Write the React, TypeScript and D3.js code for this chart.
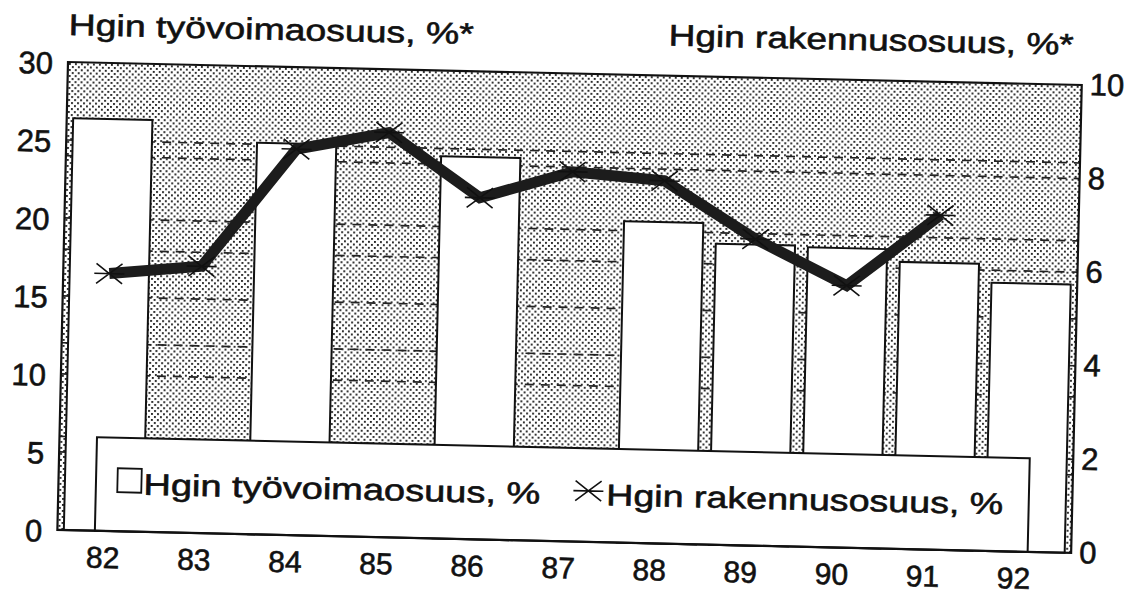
import React from "react";
import * as d3 from "d3";

// ---- data ----
const years = ["82", "83", "84", "85", "86", "87", "88", "89", "90", "91", "92"];
// Hgin työvoimaosuus, % (bars, left axis)
const workforceShare: (number | null)[] = [26.4, null, 25.1, null, 24.5, null, 20.6, 19.3, 19.2, 18.4, 17.2];
// Hgin rakennusosuus, % (line, right axis)
const constructionShare: (number | null)[] = [5.5, 5.7, 8.25, 8.65, 7.3, 7.9, 7.75, 6.55, 5.6, 7.15, null];
const leftTicks = [0, 5, 10, 15, 20, 25, 30];
const rightTicks = [0, 2, 4, 6, 8, 10];
const leftTitle = "Hgin työvoimaosuus, %*";
const rightTitle = "Hgin rakennusosuus, %*";
const legendBarLabel = "Hgin työvoimaosuus, %";
const legendLineLabel = "Hgin rakennusosuus, %";

const FONT = "'Liberation Sans', Arial, Helvetica, sans-serif";

export default function App() {
  const W = 1134;
  const H = 596;
  const x0 = 68;
  const y0 = 62;
  const pw = 1014;
  const ph = 468;
  const angle = 1.3;

  const x = d3
    .scaleBand<string>()
    .domain(years)
    .range([x0, x0 + pw])
    .paddingInner(0.14)
    .paddingOuter(0.07);
  // tick labels of the category axis sit on a slightly tighter spacing
  const xLab = d3.scalePoint<string>().domain(years).range([x0 + 46, x0 + 957]);
  const yL = d3.scaleLinear().domain([0, 30]).range([y0 + ph, y0]);
  const yR = d3.scaleLinear().domain([0, 10]).range([y0 + ph, y0]);
  const cx = (d: string) => (x(d) as number) + x.bandwidth() / 2;

  const linePts: [string, number | null][] = years.map((y, i) => [y, constructionShare[i]]);
  const lineGen = d3
    .line<[string, number | null]>()
    .defined((d) => d[1] != null)
    .x((d) => cx(d[0]))
    .y((d) => yR(d[1] as number));

  const markerPath = "M-13,-10L13,10M-13,10L13,-10M-15,0L15,0";

  // legend layout
  const legX = x0 + 37.5;
  const legY = yL(6);
  const legW = 933;
  const legH = y0 + ph - legY;
  const legBase = y0 + 431;

  const txt = { stroke: "#111", strokeWidth: 0.6 } as const;

  return (
    <svg
      width={W}
      height={H}
      viewBox={`0 0 ${W} ${H}`}
      style={{ position: "absolute", left: 0, top: 0, display: "block", background: "#fff" }}
    >
      <defs>
        <pattern id="stipple" width="6" height="6" patternUnits="userSpaceOnUse">
          <rect width="6" height="6" fill="#fff" />
          <rect x="0" y="0" width="1.9" height="1.9" fill="#222" />
          <rect x="3" y="3" width="1.9" height="1.9" fill="#222" />
        </pattern>
      </defs>
      <rect width={W} height={H} fill="#fff" />
      <g transform={`rotate(${angle}, ${x0}, ${y0})`} fontFamily={FONT} fill="#111">
        {/* plot background */}
        <rect x={x0} y={y0} width={pw} height={ph} fill="url(#stipple)" />

        {/* dashed gridlines (both axes) */}
        {leftTicks
          .filter((t) => t > 0 && t < 30)
          .map((t) => (
            <line
              key={"gl" + t}
              x1={x0}
              x2={x0 + pw}
              y1={yL(t)}
              y2={yL(t)}
              stroke="#222"
              strokeWidth={1.7}
              strokeDasharray="9,7"
            />
          ))}
        {rightTicks
          .filter((t) => t > 0 && t < 10)
          .map((t) => (
            <line
              key={"gr" + t}
              x1={x0}
              x2={x0 + pw}
              y1={yR(t)}
              y2={yR(t)}
              stroke="#222"
              strokeWidth={1.7}
              strokeDasharray="9,7"
            />
          ))}

        {/* bars */}
        {years.map((yr, i) => {
          const v = workforceShare[i];
          if (v == null) return null;
          return (
            <rect
              key={"b" + yr}
              x={x(yr)}
              y={yL(v)}
              width={x.bandwidth()}
              height={yL(0) - yL(v)}
              fill="#fff"
              stroke="#111"
              strokeWidth={2}
            />
          );
        })}

        {/* line */}
        <path
          d={lineGen(linePts) || ""}
          fill="none"
          stroke="#1c1c1c"
          strokeWidth={11}
          strokeLinejoin="miter"
        />
        {linePts
          .filter((d) => d[1] != null)
          .map((d) => (
            <path
              key={"m" + d[0]}
              d={markerPath}
              transform={`translate(${cx(d[0])},${yR(d[1] as number)})`}
              stroke="#111"
              strokeWidth={1.6}
              fill="none"
            />
          ))}

        {/* legend */}
        <rect x={legX} y={legY} width={legW} height={legH} fill="#fff" stroke="#111" strokeWidth={2} />
        <rect x={x0 + 59} y={legBase - 26} width={24} height={24} fill="#fff" stroke="#111" strokeWidth={1.8} />
        <text x={x0 + 85} y={legBase} fontSize={30} textLength={397} lengthAdjust="spacingAndGlyphs" {...txt}>
          {legendBarLabel}
        </text>
        <path
          d={markerPath}
          transform={`translate(${x0 + 530},${legBase - 14})`}
          stroke="#111"
          strokeWidth={1.6}
          fill="none"
        />
        <text x={x0 + 548} y={legBase} fontSize={30} textLength={397} lengthAdjust="spacingAndGlyphs" {...txt}>
          {legendLineLabel}
        </text>

        {/* frame */}
        <rect x={x0} y={y0} width={pw} height={ph} fill="none" stroke="#111" strokeWidth={2.2} />

        {/* left axis labels */}
        {leftTicks.map((t) => (
          <text key={"lt" + t} x={x0 - 15} y={yL(t) + 1} dy="0.36em" fontSize={31} textAnchor="end" {...txt}>
            {t}
          </text>
        ))}
        {/* right axis labels */}
        {rightTicks.map((t) => (
          <text key={"rt" + t} x={x0 + pw + 8} y={yR(t) - 1} dy="0.36em" fontSize={31} textAnchor="start" {...txt}>
            {t}
          </text>
        ))}
        {/* x labels */}
        {years.map((yr) => (
          <text key={"xl" + yr} x={xLab(yr)} y={y0 + ph + 37} fontSize={30} textAnchor="middle" {...txt}>
            {yr}
          </text>
        ))}

        {/* axis titles */}
        <text x={x0} y={35} fontSize={30} textLength={405} lengthAdjust="spacingAndGlyphs" {...txt}>
          {leftTitle}
        </text>
        <text x={x0 + 600} y={32} fontSize={30} textLength={405} lengthAdjust="spacingAndGlyphs" {...txt}>
          {rightTitle}
        </text>
      </g>
    </svg>
  );
}
